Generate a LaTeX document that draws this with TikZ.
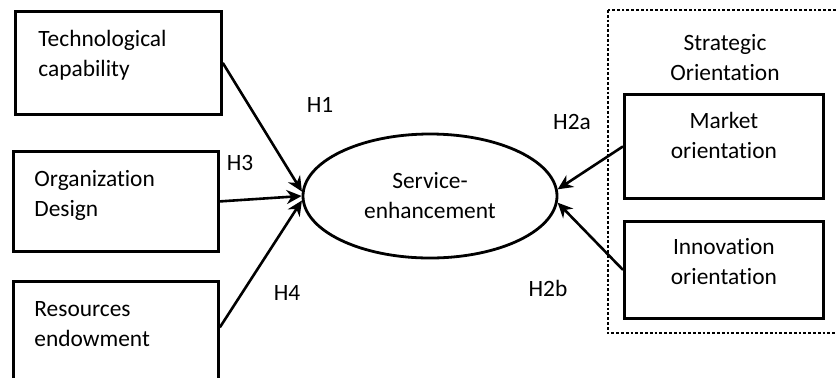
\documentclass[tikz,border=0pt]{standalone}
\usepackage{fontspec}
\setmainfont{Carlito}[Ligatures=NoCommon]
\usetikzlibrary{arrows.meta,shapes.geometric}

\begin{document}
\begin{tikzpicture}[
  x=0.5pt, y=-0.5pt,
  every node/.style={font=\fontsize{11.7}{15}\selectfont},
  factor/.style={draw, line width=1.4pt, anchor=north west, inner ysep=0pt, text height=17.5pt, align=left},
  outcome/.style={draw, ellipse, line width=1.4pt, minimum width=127pt, minimum height=62pt, inner sep=0pt, align=center},
  hyp/.style={inner sep=1pt},
  link/.style={-{Stealth[length=7.5pt,width=7pt]}, line width=1.3pt}
]
  \useasboundingbox (0,0) rectangle (836,377);

  % antecedents on the left
  \node[factor, text width=80pt, inner xsep=11.5pt, text depth=34pt] (tech) at (14,10) {Technological\\capability};
  \node[factor, text width=81.5pt, inner xsep=10.5pt, text depth=32.5pt] (org) at (12,150) {Organization\\Design};
  \node[factor, text width=81.5pt, inner xsep=10.5pt, text depth=45pt] (res) at (12,280) {Resources\\endowment};

  \node[outcome] (serv) at (430,196) {Service-\\enhancement};

  % strategic orientation group
  \draw[line width=1.4pt, dash pattern=on 1.4pt off 1pt] (608,10) rectangle (850,333);
  \node[align=center] (strat) at (725,58) {Strategic\\Orientation};
  \node[factor, align=center, text width=80pt, inner xsep=9.75pt, text height=16.8pt, text depth=35.2pt] (mkt) at (623,93) {Market\\orientation};
  \node[factor, align=center, text width=80pt, inner xsep=9.75pt, text height=16.5pt, text depth=32pt] (inn) at (623,220) {Innovation\\orientation};

  \draw[link] (tech.east) -- (serv.178);
  \draw[link] (org.east) -- (serv.west);
  \draw[link] (res.9) -- (serv.182);
  \draw[link] (mkt.west) -- (serv.3);
  \draw[link] (inn.west) -- (serv.-3);

  \node[hyp] (h1) at (320,105) {H1};
  \node[hyp] (h3) at (240,163) {H3};
  \node[hyp] (h4) at (287,293) {H4};
  \node[hyp] (h2a) at (572,122) {H2a};
  \node[hyp] (h2b) at (548,288) {H2b};
\end{tikzpicture}
\end{document}
